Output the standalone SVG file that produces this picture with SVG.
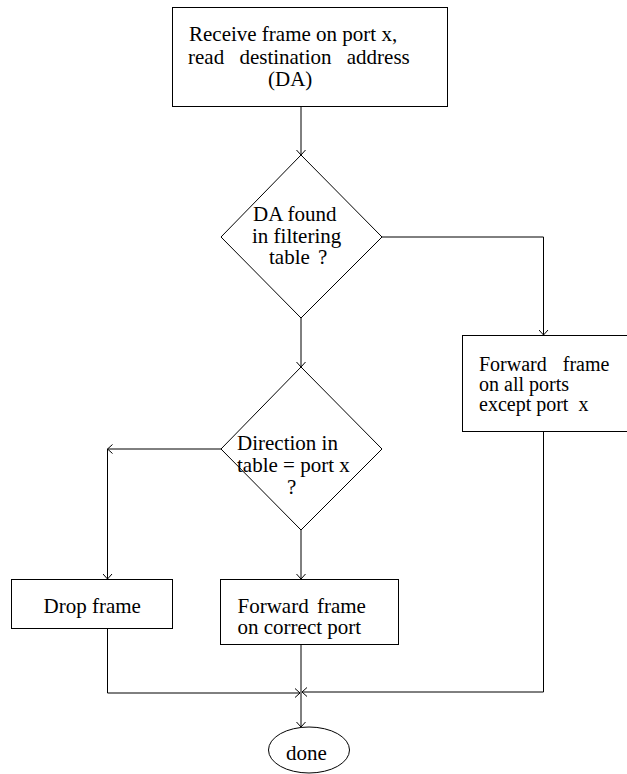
<svg xmlns="http://www.w3.org/2000/svg" width="627" height="774" viewBox="0 0 627 774">
<style>
  .shape { fill: #fff; stroke: #000; stroke-width: 1; }
  .t { font-family: "Liberation Serif", "Times New Roman", serif; font-size: 21px; fill: #000; }
  .s { font-size: 20px; }
  .c { fill: none; stroke: #000; stroke-width: 1; }
</style>
<defs>
  <marker id="arr" viewBox="-6 -5 7 10" refX="0" refY="0" markerWidth="7" markerHeight="10" markerUnits="userSpaceOnUse" orient="auto">
    <path d="M-5,-4.5 L0,0 L-5,4.5" fill="none" stroke="#000" stroke-width="1"/>
  </marker>
</defs>
<rect width="627" height="774" fill="#fff"/>
<g id="connectors">
  <path class="c" d="M301,106 V155" marker-end="url(#arr)"/>
  <path class="c" d="M382,237 H543.5 V335" marker-end="url(#arr)"/>
  <path class="c" d="M301,318 V367" marker-end="url(#arr)"/>
  <path class="c" d="M221,449 H107.5" marker-end="url(#arr)"/>
  <path class="c" d="M107.5,449 V579" marker-end="url(#arr)"/>
  <path class="c" d="M301,530 V579" marker-end="url(#arr)"/>
  <path class="c" d="M107.5,628 V693 H300" marker-end="url(#arr)"/>
  <path class="c" d="M543.5,432 V692 H302" marker-end="url(#arr)"/>
  <path class="c" d="M301,644 V727" marker-end="url(#arr)"/>
</g>
<g id="receive">
  <rect class="shape" x="172.5" y="7.5" width="275" height="99"/>
  <text class="t" x="189" y="41">Receive frame on port x,</text>
  <text class="t" x="188" y="63.5" word-spacing="10">read destination address</text>
  <text class="t" x="268" y="86">(DA)</text>
</g>
<g id="decision-found">
  <polygon class="shape" points="301,155 382,237 301,318 221,237"/>
  <text class="t" x="253" y="221">DA found</text>
  <text class="t" x="252" y="242.5">in filtering</text>
  <text class="t" x="269" y="264" word-spacing="3">table ?</text>
</g>
<g id="forward-all">
  <rect class="shape" x="462.5" y="335.5" width="170" height="96"/>
  <text class="t s" x="479" y="370.5" word-spacing="11">Forward frame</text>
  <text class="t s" x="479" y="390.5">on all ports</text>
  <text class="t s" x="479" y="411">except port&#160; x</text>
</g>
<g id="decision-direction">
  <polygon class="shape" points="301,367 382,449 301,530 221,449"/>
  <text class="t" x="237" y="449.5">Direction in</text>
  <text class="t" x="237" y="471.5">table = port x</text>
  <text class="t" x="287" y="494">?</text>
</g>
<g id="drop">
  <rect class="shape" x="11.5" y="579.5" width="161" height="49"/>
  <text class="t" x="43.5" y="612.5">Drop frame</text>
</g>
<g id="forward-correct">
  <rect class="shape" x="220.5" y="579.5" width="178" height="65"/>
  <text class="t" x="237.5" y="612.5" word-spacing="3">Forward frame</text>
  <text class="t" x="237.5" y="634">on correct port</text>
</g>
<g id="done">
  <ellipse class="shape" cx="309" cy="750" rx="40.5" ry="23"/>
  <text class="t" x="286" y="759.5">done</text>
</g>
</svg>
